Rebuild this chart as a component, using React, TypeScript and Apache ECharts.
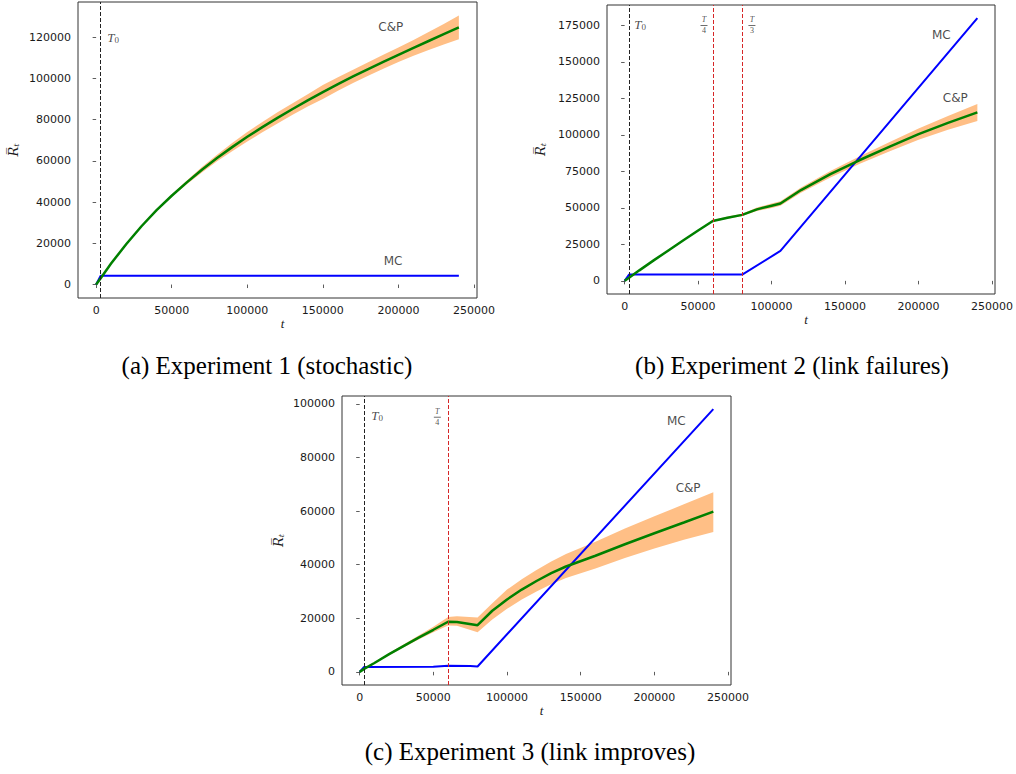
import React, { useEffect, useRef } from "react";
import * as echarts from "echarts";

// ---------- shared ticks ----------
const xTicks = [0, 50000, 100000, 150000, 200000, 250000];

// ---------- (a) Experiment 1 (stochastic) ----------
const yTicksA = [0, 20000, 40000, 60000, 80000, 100000, 120000];
const tA = [0, 3000, 10000, 20000, 30000, 40000, 50000, 60000, 70000, 80000, 90000, 100000, 110000, 120000, 130000, 140000, 150000, 160000, 170000, 180000, 190000, 200000, 210000, 220000, 230000, 240000];
const cpMeanA = [0, 3100, 10300, 19700, 28300, 36100, 43100, 49600, 55700, 61400, 66700, 71700, 76400, 80900, 85200, 89400, 93400, 97300, 101000, 104600, 108100, 111500, 114900, 118200, 121500, 124800];
const cpHiA = [0, 3200, 10500, 20000, 28700, 36600, 43700, 50500, 57000, 63000, 68700, 74000, 78900, 83600, 88000, 92400, 96800, 100600, 104200, 107900, 111500, 115000, 118700, 122600, 126500, 130600];
const cpLoA = [0, 3000, 10100, 19400, 27900, 35600, 42500, 48700, 54400, 59800, 64700, 69400, 73900, 78200, 82400, 86400, 90000, 94000, 97800, 101300, 104700, 108000, 111100, 113800, 116500, 119000];
const mcTA = [0, 3000, 240000];
const mcA = [0, 4300, 4300];

// ---------- (b) Experiment 2 (link failures) ----------
const yTicksB = [0, 25000, 50000, 75000, 100000, 125000, 150000, 175000];
const tB = [0, 3000, 10000, 20000, 30000, 40000, 50000, 60000, 70000, 80000, 90000, 100000, 106000, 120000, 140000, 160000, 180000, 200000, 220000, 240000];
const cpMeanB = [0, 2200, 7200, 14200, 21000, 27800, 34500, 41000, 43300, 45200, 49000, 51500, 53000, 62200, 73100, 82800, 91800, 100500, 108200, 115400];
const cpHiB = [0, 2300, 7400, 14400, 21300, 28100, 34900, 41500, 44100, 46000, 50200, 53000, 54600, 64000, 75300, 85400, 95000, 104400, 112900, 121200];
const cpLoB = [0, 2100, 7000, 14000, 20700, 27500, 34100, 40500, 42500, 44400, 47800, 50000, 51400, 60400, 70900, 80200, 88600, 96600, 103500, 109600];
const mcTB = [0, 3000, 80000, 106000, 240000];
const mcB = [0, 4300, 4300, 20500, 180000];

// ---------- (c) Experiment 3 (link improves) ----------
const yTicksC = [0, 20000, 40000, 60000, 80000, 100000];
const tC = [0, 3000, 10000, 20000, 30000, 40000, 50000, 60000, 66000, 80000, 90000, 100000, 110000, 120000, 130000, 140000, 160000, 180000, 200000, 220000, 240000];
const cpMeanC = [0, 1100, 3300, 6600, 9700, 12800, 15700, 18700, 18600, 17400, 22800, 27000, 30700, 33900, 36800, 39300, 43300, 47600, 51700, 55700, 59800];
const cpHiC = [0, 1200, 3500, 7000, 10300, 13600, 16800, 20500, 20700, 20300, 25600, 30700, 34500, 38000, 41200, 44000, 48500, 53500, 58000, 62500, 67000];
const cpLoC = [0, 1000, 3100, 6200, 9200, 12100, 14800, 17300, 17200, 14800, 19500, 23500, 27000, 30000, 32700, 35000, 38600, 42500, 46000, 49300, 52200];
const mcTC = [0, 3000, 50000, 60000, 75000, 80000, 240000];
const mcC = [0, 1800, 1900, 2300, 2200, 2000, 98000];

// ---------- vertical markers (T0 = 3000, T/4 = 60000, T/3 = 80000) ----------
const vlinesA = [{ t: 3000, kind: "t0" }];
const vlinesB = [{ t: 3000, kind: "t0" }, { t: 60000, kind: "frac" }, { t: 80000, kind: "frac" }];
const vlinesC = [{ t: 3000, kind: "t0" }, { t: 60000, kind: "frac" }];

// ---------- annotations (data coordinates) ----------
const annotA = [
  { kind: "name", text: "C&P", x: 195000, y: 125000 },
  { kind: "name", text: "MC", x: 196500, y: 11200 },
  { kind: "t0", text: "0", x: 11200, y: 119700 },
];
const annotB = [
  { kind: "name", text: "MC", x: 215500, y: 168700 },
  { kind: "name", text: "C&P", x: 225000, y: 125500 },
  { kind: "t0", text: "0", x: 10600, y: 175600 },
  { kind: "frac", text: "4", x: 54000, y: 175000 },
  { kind: "frac", text: "3", x: 86600, y: 175000 },
];
const annotC = [
  { kind: "name", text: "MC", x: 214900, y: 93600 },
  { kind: "name", text: "C&P", x: 222900, y: 68500 },
  { kind: "t0", text: "0", x: 11900, y: 95800 },
  { kind: "frac", text: "4", x: 52700, y: 95000 },
];

const captions = [
  { text: "(a) Experiment 1 (stochastic)", x: 267, y: 365 },
  { text: "(b) Experiment 2 (link failures)", x: 792, y: 365 },
  { text: "(c) Experiment 3 (link improves)", x: 530, y: 751 },
];

const panels = [
  { grid: { left: 78, top: 2, width: 399, height: 296 }, x: [-12000, 252000], y: [-6530, 137130], yTicks: yTicksA, t: tA, mean: cpMeanA, hi: cpHiA, lo: cpLoA, mcT: mcTA, mc: mcA, vlines: vlinesA, annot: annotA, nameGap: 58 },
  { grid: { left: 607, top: 5, width: 388, height: 289 }, x: [-12000, 252000], y: [-9000, 189000], yTicks: yTicksB, t: tB, mean: cpMeanB, hi: cpHiB, lo: cpLoB, mcT: mcTB, mc: mcB, vlines: vlinesB, annot: annotB, nameGap: 60 },
  { grid: { left: 342, top: 396, width: 389, height: 289 }, x: [-12000, 252000], y: [-4900, 102900], yTicks: yTicksC, t: tC, mean: cpMeanC, hi: cpHiC, lo: cpLoC, mcT: mcTC, mc: mcC, vlines: vlinesC, annot: annotC, nameGap: 57 },
];

const AX = "#333";
const TXT = "#1a1a1a";

const rich = {
  i: { fontFamily: "Liberation Serif", fontStyle: "italic", fontSize: 13, color: TXT, lineHeight: 14 },
  s: { fontFamily: "Liberation Serif", fontSize: 9, color: TXT, lineHeight: 14, verticalAlign: "bottom" },
  n: { fontFamily: "Liberation Serif", fontStyle: "italic", fontSize: 8, color: TXT, lineHeight: 8, align: "center" },
  b: { fontSize: 1, lineHeight: 3, width: 7, height: 0.8, backgroundColor: TXT, align: "center" },
  d: { fontFamily: "Liberation Serif", fontSize: 8, color: TXT, lineHeight: 8, align: "center" },
};

function labelFor(a: any) {
  if (a.kind === "name") return { formatter: a.text, fontFamily: "DejaVu Sans", fontSize: 12, color: TXT };
  if (a.kind === "t0") return { formatter: "{i|T}{s|" + a.text + "}", rich };
  return { formatter: "{n|T}\n{b| }\n{d|" + a.text + "}", rich };
}

function buildOption() {
  const grid: any[] = [];
  const xAxis: any[] = [];
  const yAxis: any[] = [];
  const series: any[] = [];
  panels.forEach((p, i) => {
    grid.push({ ...p.grid, show: true, borderColor: AX, borderWidth: 1, backgroundColor: "transparent", containLabel: false, outerBoundsMode: "none" });
    xAxis.push({
      type: "value", gridIndex: i, min: p.x[0], max: p.x[1],
      axisLine: { show: false }, splitLine: { show: false },
      axisTick: { show: true, inside: false, length: 3.5, lineStyle: { color: AX, width: 0.8 }, customValues: xTicks },
      axisLabel: { customValues: xTicks, formatter: (v: number) => String(v), fontFamily: "DejaVu Sans", fontSize: 11, color: TXT, margin: 7 },
      name: "t", nameLocation: "middle", nameGap: 19,
      nameTextStyle: { fontFamily: "Liberation Serif", fontStyle: "italic", fontSize: 13, color: TXT, padding: [0, 0, 0, 10] },
    });
    yAxis.push({
      type: "value", gridIndex: i, min: p.y[0], max: p.y[1],
      axisLine: { show: false }, splitLine: { show: false },
      axisTick: { show: true, inside: false, length: 3.5, lineStyle: { color: AX, width: 0.8 }, customValues: p.yTicks },
      axisLabel: { customValues: p.yTicks, formatter: (v: number) => String(v), fontFamily: "DejaVu Sans", fontSize: 11, color: TXT, margin: 7 },
      name: "{r|R\u0305}{s|t}", nameLocation: "middle", nameGap: p.nameGap, nameRotate: 90,
      nameTextStyle: {
        color: TXT,
        rich: {
          r: { fontFamily: "DejaVu Serif", fontStyle: "italic", fontSize: 13, color: TXT },
          s: { fontFamily: "DejaVu Serif", fontStyle: "italic", fontSize: 8, color: TXT, verticalAlign: "bottom" },
        },
      },
    });
    const t = p.t, hi = p.hi, lo = p.lo;
    series.push({
      type: "custom", xAxisIndex: i, yAxisIndex: i, data: [[0, 0]], silent: true, z: 2,
      renderItem: (params: any, api: any) => {
        if (params.dataIndex !== 0) return null;
        const pts: number[][] = [];
        for (let k = 0; k < t.length; k++) pts.push(api.coord([t[k], hi[k]]));
        for (let k = t.length - 1; k >= 0; k--) pts.push(api.coord([t[k], lo[k]]));
        return { type: "polygon", shape: { points: pts }, style: { fill: "#ffbf86", stroke: null } };
      },
    });
    series.push({
      type: "line", xAxisIndex: i, yAxisIndex: i, symbol: "none", showSymbol: false, silent: true, z: 3,
      data: p.mcT.map((x, k) => [x, p.mc[k]]),
      lineStyle: { color: "#0000ff", width: 2 },
    });
    series.push({
      type: "line", xAxisIndex: i, yAxisIndex: i, symbol: "none", showSymbol: false, silent: true, z: 4,
      data: t.map((x, k) => [x, p.mean[k]]),
      lineStyle: { color: "#008000", width: 2.5 },
    });
    series.push({
      type: "scatter", xAxisIndex: i, yAxisIndex: i, silent: true, z: 6,
      symbol: "circle", symbolSize: 1, itemStyle: { color: "rgba(0,0,0,0)" },
      label: { show: true, position: "inside", align: "center", verticalAlign: "middle" },
      data: p.annot.map((a) => ({ value: [a.x, a.y], label: labelFor(a) })),
      markLine: {
        silent: true, symbol: ["none", "none"], animation: false,
        label: { show: false },
        data: p.vlines.map((v) => ({
          xAxis: v.t,
          lineStyle: { color: v.kind === "t0" ? "#222" : "#d62728", width: 1, type: [4, 2] },
        })),
      },
    });
  });
  const graphic = captions.map((c) => ({
    type: "text", x: c.x, y: c.y, silent: true,
    style: { text: c.text, fill: "#000", font: '25px "Liberation Serif"', align: "center", verticalAlign: "middle", textAlign: "center", textVerticalAlign: "middle" },
  }));
  return { animation: false, grid, xAxis, yAxis, series, graphic };
}

export default function App() {
  const ref = useRef<HTMLDivElement>(null);
  useEffect(() => {
    if (!ref.current) return;
    const chart = echarts.init(ref.current, null, { renderer: "svg" });
    chart.setOption(buildOption() as any);
    return () => chart.dispose();
  }, []);
  return <div ref={ref} style={{ position: "absolute", left: 0, top: 0, width: 1016, height: 774, background: "#fff" }} />;
}
